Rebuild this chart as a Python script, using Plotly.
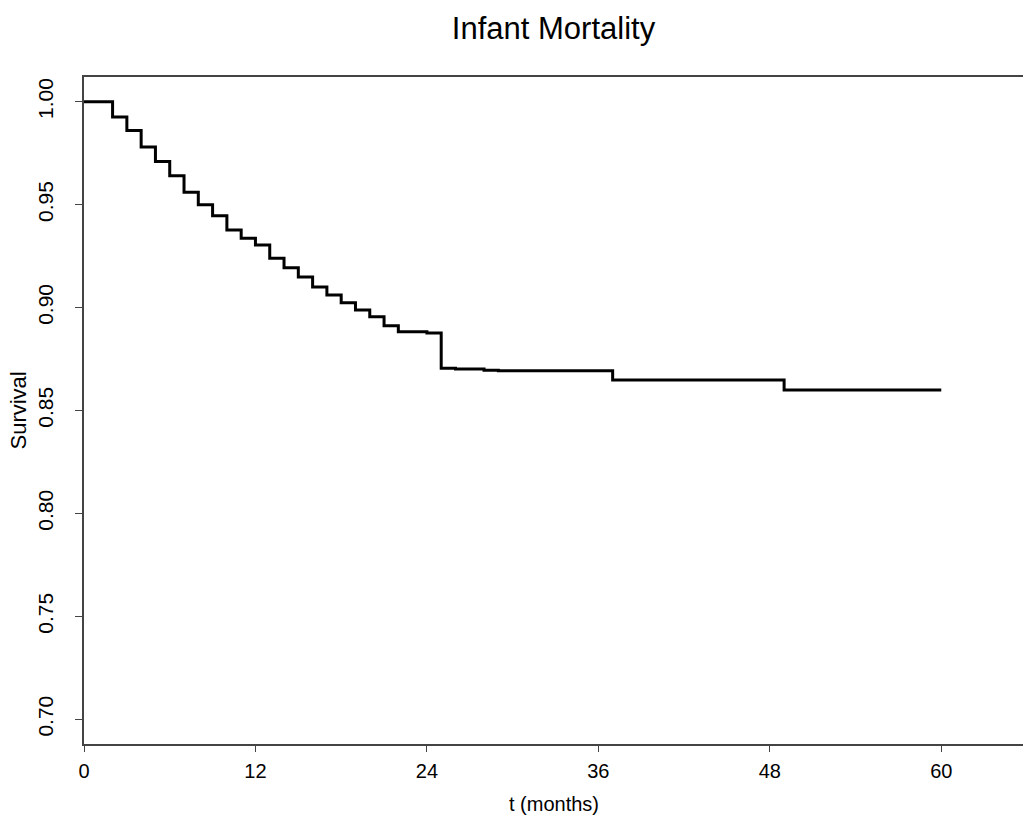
import plotly.graph_objects as go

# Kaplan-Meier step estimates
months = [0, 2, 3, 4, 5, 6, 7, 8, 9, 10, 11, 12, 13, 14, 15, 16, 17, 18, 19,
          20, 21, 22, 24, 25, 26, 28, 29, 37, 49, 60]
survival = [1.0, 0.9926, 0.986, 0.978, 0.971, 0.964, 0.956, 0.950, 0.9446,
            0.9377, 0.9337, 0.9304, 0.924, 0.9193, 0.9149, 0.9100, 0.9061,
            0.9024, 0.8988, 0.8956, 0.8912, 0.8883, 0.8876, 0.8705, 0.8701,
            0.8696, 0.8693, 0.8648, 0.8599, 0.8599]

x_ticks = [0, 12, 24, 36, 48, 60]
y_ticks = [0.70, 0.75, 0.80, 0.85, 0.90, 0.95, 1.00]

FONT = "Liberation Sans, Arial, sans-serif"

fig = go.Figure()
fig.add_trace(go.Scatter(
    x=months, y=survival, mode="lines",
    line=dict(color="black", width=3, shape="hv"),
    showlegend=False, hoverinfo="skip",
))

fig.update_layout(
    width=1023, height=825,
    margin=dict(l=84, r=0, t=77, b=81),
    paper_bgcolor="white", plot_bgcolor="white",
    font=dict(family=FONT, color="black"),
    title=dict(text="Infant Mortality", x=0.5, xref="paper", xanchor="center",
               y=1 - 28 / 825, yref="container", yanchor="middle",
               font=dict(size=31, family=FONT, color="black")),
    showlegend=False,
)

fig.update_xaxes(
    range=[0, 65.72], tickvals=x_ticks, ticktext=[str(v) for v in x_ticks],
    showgrid=False, zeroline=False,
    showline=True, linecolor="#444", linewidth=1.5, mirror=True,
    ticks="outside", ticklen=6, tickwidth=1, tickcolor="#444",
    tickfont=dict(size=20, family=FONT, color="black"),
    ticklabelstandoff=2,
)
fig.update_yaxes(
    range=[0.688, 1.012], tickvals=y_ticks, ticktext=[f"{v:.2f}" for v in y_ticks],
    showgrid=False, zeroline=False,
    showline=True, linecolor="#444", linewidth=1.5, mirror=False,
    ticks="outside", ticklen=7, tickwidth=1, tickcolor="#444",
    tickangle=-90,
    tickfont=dict(size=21, family=FONT, color="black"),
    ticklabelstandoff=14,
)

fig.add_annotation(text="t (months)", xref="paper", yref="paper",
                   x=0.5, y=0, yshift=-60, xanchor="center", yanchor="middle",
                   showarrow=False, font=dict(size=20, family=FONT, color="black"))
fig.add_annotation(text="Survival", xref="paper", yref="paper",
                   x=0, y=0.5, xshift=-66, textangle=-90,
                   xanchor="center", yanchor="middle",
                   showarrow=False, font=dict(size=22, family=FONT, color="black"))

fig.write_html("out.html")
